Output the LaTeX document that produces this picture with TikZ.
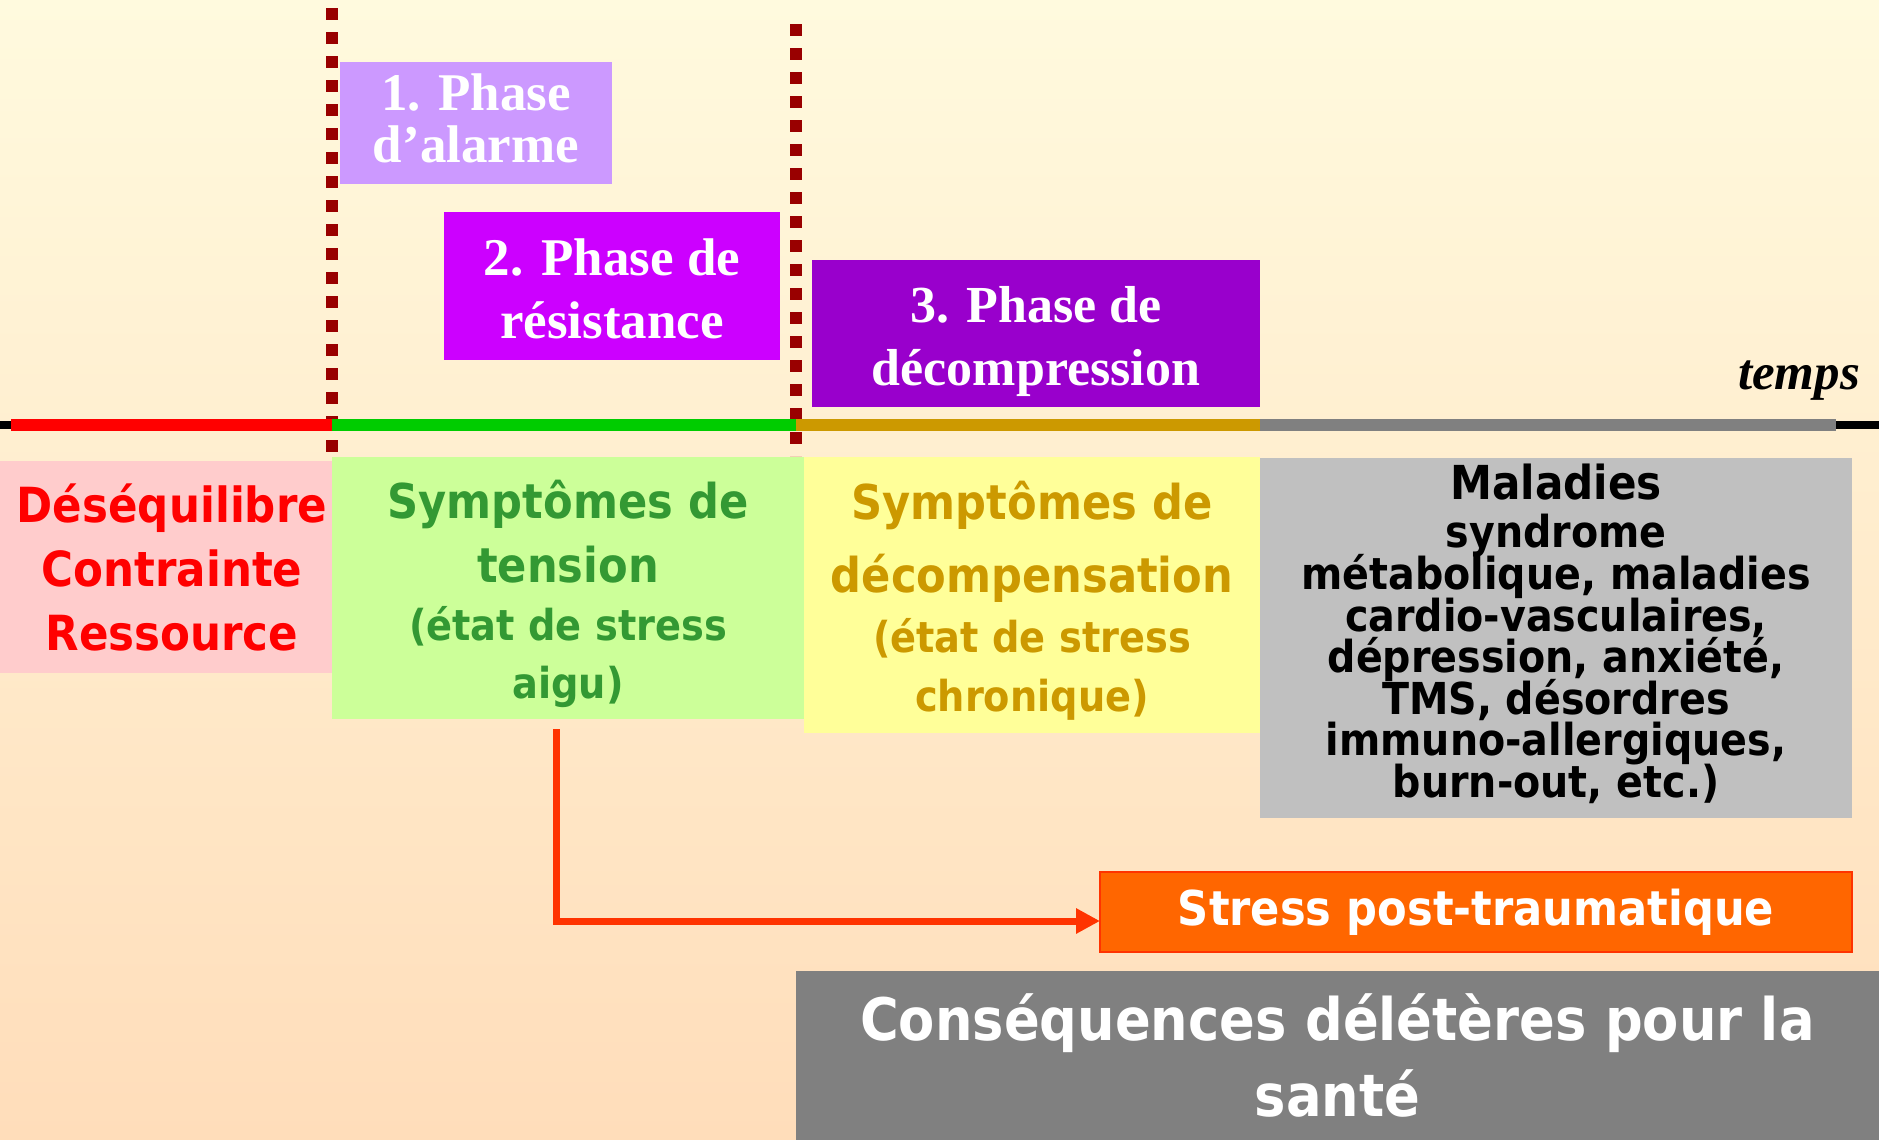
\documentclass[tikz,border=0pt]{standalone}
\usepackage{fontspec}
\setmainfont{Liberation Serif}
\newfontfamily\tah{DejaVu Sans}[FakeStretch=0.9]
\usetikzlibrary{arrows.meta}
\definecolor{bgtop}{RGB}{255,250,222}
\definecolor{bgbot}{RGB}{255,221,186}
\definecolor{ph1}{HTML}{CC99FF}
\definecolor{ph2}{HTML}{CC00FF}
\definecolor{ph3}{HTML}{9900CC}
\definecolor{dotred}{HTML}{990000}
\definecolor{tlred}{HTML}{FF0000}
\definecolor{tlgreen}{HTML}{00CC00}
\definecolor{tlgold}{HTML}{CC9900}
\definecolor{tlgray}{HTML}{808080}
\definecolor{boxred}{HTML}{FFCCCC}
\definecolor{boxgreen}{HTML}{CCFF99}
\definecolor{boxyellow}{HTML}{FFFF99}
\definecolor{boxgray}{HTML}{C0C0C0}
\definecolor{txtgreen}{HTML}{339933}
\definecolor{orangebox}{HTML}{FF6600}
\definecolor{arrowred}{HTML}{FF3300}
\definecolor{consgray}{HTML}{808080}
\newcommand\graytxtfont{\tah\bfseries\fontsize{22}{20.8}\selectfont\setlength{\lineskiplimit}{-50pt}}
\begin{document}
\begin{tikzpicture}[x=0.5pt,y=-0.5pt,
  fillbox/.style={fill=#1, inner sep=0pt, outer sep=0pt},
  boxtext/.style={inner sep=0pt, align=center},
  sepline/.style={dotred, line width=6pt, dash pattern=on 6pt off 6pt},
  seg/.style={#1, line width=6pt},
  conn/.style={arrowred, line width=3.5pt, line join=miter, -{Triangle[length=12pt,width=12pt]}}]
\shade[top color=bgtop,bottom color=bgbot] (0,0) rectangle (1879,1140);
\useasboundingbox (0,0) rectangle (1879,1140);
% separators
\draw[sepline] (332,8) -- (332,456);
\draw[sepline] (796,24) -- (796,456);
% timeline
\draw[black, line width=4pt] (0,425) -- (1879,425);
\draw[seg=tlred] (11,425) -- (332,425);
\draw[seg=tlgreen] (332,425) -- (796,425);
\draw[seg=tlgold] (796,425) -- (1260,425);
\draw[seg=tlgray] (1260,425) -- (1836,425);
% phases
\node[fillbox=ph1, minimum width=136pt, minimum height=61pt] (box1) at (476,123) {};
\node[boxtext, text=white, font=\bfseries\fontsize{26.5}{26}\selectfont] (box1t) at ([yshift=2.5pt]box1.center) {1. Phase\\d’alarme};
\node[fillbox=ph2, minimum width=168pt, minimum height=74pt] (box2) at (612,286) {};
\node[boxtext, text=white, font=\bfseries\fontsize{26.5}{31.5}\selectfont] (box2t) at ([yshift=-1.5pt]box2.center) {2. Phase de\\résistance};
\node[fillbox=ph3, minimum width=224pt, minimum height=73.5pt] (box3) at (1036,333.5) {};
\node[boxtext, text=white, font=\bfseries\fontsize{26}{31.5}\selectfont] (box3t) at ([yshift=-4pt]box3.center) {3. Phase de\\décompression};
\node[anchor=base east, font=\bfseries\itshape\fontsize{25.5}{30}\selectfont] (temps) at (1867,389) {temps};
% lower boxes
\node[fillbox=boxred, minimum width=166pt, minimum height=106pt] (red) at (166,567) {};
\node[boxtext, text=tlred, font=\tah\bfseries\fontsize{24.2}{32}\selectfont] (redt) at ([xshift=3pt]red.center) {Déséquilibre\\Contrainte\\Ressource};
\node[fillbox=boxgreen, minimum width=236pt, minimum height=131pt] (green) at (568,588) {};
\node[boxtext, text=txtgreen, font=\tah\bfseries\fontsize{24}{29}\selectfont] (greent) at ([yshift=-2.75pt]green.center) {Symptômes de\\[3pt]tension\\\fontsize{21.3}{24}\selectfont(état de stress\\\fontsize{21.3}{24}\selectfont aigu)};
\node[fillbox=boxyellow, minimum width=228pt, minimum height=138pt] (yellow) at (1032,595) {};
\node[boxtext, text=tlgold, font=\tah\bfseries\fontsize{24}{29.75}\selectfont] (yellowt) at ([yshift=-3pt]yellow.center) {Symptômes de\\[6.75pt]décompensation\\\fontsize{21.3}{24}\selectfont(état de stress\\\fontsize{21.3}{24}\selectfont chronique)};
\node[fillbox=boxgray, minimum width=296pt, minimum height=180pt] (gray) at (1556,638) {};
\node[boxtext, text=black, font=\graytxtfont] (grayt) at ([yshift=2pt]gray.center) {\fontsize{23.4}{24}\selectfont Maladies\\[3.2pt]syndrome\\métabolique, maladies\\cardio-vasculaires,\\dépression, anxiété,\\TMS, désordres\\immuno-allergiques,\\burn-out, etc.)};
\node[fillbox=orangebox, draw=arrowred, line width=1pt, text=white, minimum width=376pt, minimum height=40pt, font=\tah\bfseries\fontsize{24}{29}\selectfont] (ptsd) at (1476,912) {Stress post-traumatique};
\node[fillbox=consgray, text=white, align=center, minimum width=541.5pt, minimum height=84.5pt, font=\tah\bfseries\fontsize{29.3}{38}\selectfont] (cons) at (1337.5,1055.5) {Conséquences délétères pour la\\santé};
% connector
\coordinate (astart) at (556,729);
\draw[conn] (astart) |- ([yshift=-4.5pt]ptsd.west);
\end{tikzpicture}
\end{document}
